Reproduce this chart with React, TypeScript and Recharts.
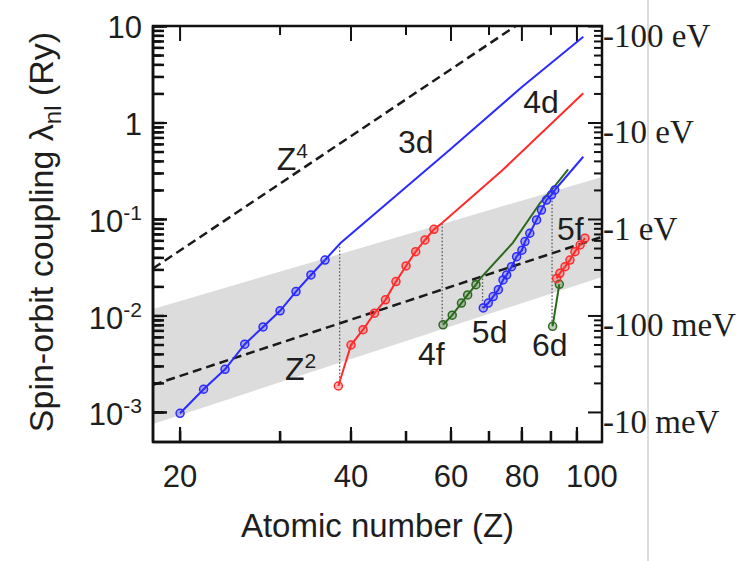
import React from 'react';
import { ComposedChart, Line, Area, XAxis, YAxis, ReferenceDot, ReferenceArea } from 'recharts';

// ---- axes ----
const Z_DOMAIN: [number, number] = [17.92, 110.7];
const L_DOMAIN: [number, number] = [0.000494, 10.12];
const PLOT_W = 449;
const PLOT_H = 416;

const X_MAJOR = [20, 40, 60, 80, 100];
const X_MINOR = [30, 50, 70, 90];
const X_LABELS = ['20', '40', '60', '80', '100'];

const Y_MAJOR = [0.001, 0.01, 0.1, 1, 10];
const Y_MAJOR_BASE = ['10', '10', '10', '1', '10'];
const Y_MAJOR_SUP = ['-3', '-2', '-1', '', ''];
const Y_MINOR = [
  0.002, 0.003, 0.004, 0.005, 0.006, 0.007, 0.008, 0.009,
  0.02, 0.03, 0.04, 0.05, 0.06, 0.07, 0.08, 0.09,
  0.2, 0.3, 0.4, 0.5, 0.6, 0.7, 0.8, 0.9,
  2, 3, 4, 5, 6, 7, 8, 9,
];

const EV_VALUES = [100, 10, 1, 0.1, 0.01];
const EV_LABELS = ['-100 eV', '-10 eV', '-1 eV', '-100 meV', '-10 meV'];
const EV_PER_RY = 13.6057;

// ---- series (Z, lambda in Ry) ----
const D3_MARKED: [number, number][] = [
  [20, 0.00098], [22, 0.00174], [24, 0.0028], [26, 0.0051], [28, 0.0077],
  [30, 0.0113], [32, 0.0179], [34, 0.0266], [36, 0.038],
];
const D3_EXT: [number, number][] = [[36, 0.038], [38.3, 0.0567], [60, 0.54], [80, 2.36], [102.6, 7.84]];

const D4_MARKED: [number, number][] = [
  [38, 0.00188], [40, 0.005], [42, 0.0072], [44, 0.0107], [46, 0.0147],
  [48, 0.0227], [50, 0.033], [52, 0.0464], [54, 0.0613], [56, 0.079],
];
const D4_EXT: [number, number][] = [[56, 0.079], [57.8, 0.0914], [74, 0.326], [102.6, 2.03]];

const F4_MARKED: [number, number][] = [
  [58.1, 0.0081], [60.3, 0.0102], [62.6, 0.0136], [64.2, 0.0165], [66.4, 0.0211],
];
const F4_EXT: [number, number][] = [
  [66.4, 0.0211], [67.6, 0.0245], [77.1, 0.0573], [86.1, 0.148], [90.2, 0.202], [96.5, 0.33],
];

const D5_MARKED: [number, number][] = [
  [68.4, 0.0121], [69.8, 0.0136], [71.2, 0.0159], [72.7, 0.0187], [74.1, 0.0236],
  [75.2, 0.0266], [76.7, 0.0324], [78.3, 0.0412], [80.0, 0.048], [81.0, 0.059],
  [82.6, 0.072], [84.9, 0.099], [86.6, 0.125], [88.4, 0.159], [90.2, 0.18], [91.4, 0.202],
];
const D5_EXT: [number, number][] = [[91.4, 0.202], [102.6, 0.447]];

const F5_MARKED: [number, number][] = [
  [92.1, 0.0245], [93.3, 0.0277], [95.3, 0.0324], [97.2, 0.038], [99.2, 0.0464], [101.3, 0.0544], [103.3, 0.064],
];
const D6_MARKED: [number, number][] = [[90.6, 0.0078], [93.1, 0.0213]];

const DROP_A: [number, number][] = [[38.2, 0.0567], [38.2, 0.00188]];
const DROP_B: [number, number][] = [[57.9, 0.0914], [57.9, 0.0081]];
const DROP_C: [number, number][] = [[68.2, 0.0245], [68.2, 0.0121]];
const DROP_D: [number, number][] = [[90.4, 0.185], [90.4, 0.0078]];

const Z4_LINE: [number, number][] = [[17.92, 0.031], [78, 10.12]];
const Z2_LINE: [number, number][] = [[17.92, 0.00193], [110.7, 0.066]];

const BAND_Z = [17.92, 110.7];
const BAND_LOW = [0.00076, 0.0254];
const BAND_HIGH = [0.0118, 0.275];

// ---- annotations ----
const ANNOT_TEXT = ['Z', '3d', '4d', 'Z', '4f', '5d', '6d', '5f'];
const ANNOT_SUP = ['4', '', '', '2', '', '', '', ''];
const ANNOT_Z = [29.6, 48.4, 80.4, 30.6, 52.5, 65.3, 83.3, 92.2];
const ANNOT_V = [0.326, 0.489, 1.27, 0.00217, 0.0031, 0.00525, 0.00385, 0.0613];

const toPts = (arr: [number, number][]) => arr.map(([z, v]) => ({ z, v }));
const bandData = BAND_Z.map((z, i) => ({ z, band: [BAND_LOW[i], BAND_HIGH[i]] }));

// tick-mark lengths (px) turned into ratios on the log axes
const X_DEC_PX = PLOT_W / Math.log10(Z_DOMAIN[1] / Z_DOMAIN[0]);
const Y_DEC_PX = PLOT_H / Math.log10(L_DOMAIN[1] / L_DOMAIN[0]);
const xr = (px: number) => Math.pow(10, px / X_DEC_PX);
const yr = (px: number) => Math.pow(10, px / Y_DEC_PX);
const isMajY = (v: number) => Y_MAJOR.indexOf(v) >= 0;
const isMajX = (z: number) => X_MAJOR.indexOf(z) >= 0;
const ALL_Y = [...Y_MAJOR, ...Y_MINOR];
const ALL_X = [...X_MAJOR, ...X_MINOR];

const tickSeg = (a: { z: number; v: number }, b: { z: number; v: number }) => [a, b];
const leftTicks = ALL_Y.map((v) => tickSeg({ z: Z_DOMAIN[0], v }, { z: Z_DOMAIN[0] * xr(isMajY(v) ? 14 : 8), v }));
const rightTicks = ALL_Y.map((v) => tickSeg({ z: Z_DOMAIN[1], v }, { z: Z_DOMAIN[1] / xr(isMajY(v) ? 14 : 8), v }));
const bottomTicks = ALL_X.map((z) => tickSeg({ z, v: L_DOMAIN[0] }, { z, v: L_DOMAIN[0] * yr(isMajX(z) ? 15 : 9) }));
const topTicks = ALL_X.map((z) => tickSeg({ z, v: L_DOMAIN[1] }, { z, v: L_DOMAIN[1] / yr(isMajX(z) ? 15 : 9) }));
const ALL_TICK_SEGS = [...leftTicks, ...rightTicks, ...bottomTicks, ...topTicks];

const SANS = '"Liberation Sans", Arial, Helvetica, sans-serif';
const SERIF = '"Liberation Serif", "Times New Roman", serif';
const INK = '#1e1e1e';
const TS = -11; // inward tick size

const BLUE = '#2b2bff';
const RED = '#ff2b2b';
const GREEN = '#2b6a1e';

// left: tick x = axis + 11 - 2
const LeftTick = (props: any) => {
  const { x, y, payload } = props;
  const axisX = x + TS + 2;
  const major = isMajY(payload.value);
  const idx = Y_MAJOR.indexOf(payload.value);
  const sup = major ? Y_MAJOR_SUP[idx] : '';
  return (
    <g>
      <path d={`M${axisX},${y}L${axisX + (major ? 14 : 8)},${y}`} stroke="#111" strokeWidth={2} fill="none" />
      {major && (
        <text x={axisX - 11} y={y + (sup ? 13 : 12)} textAnchor="end" fontSize={31} fontFamily={SANS} fill={INK}>
          {Y_MAJOR_BASE[idx]}
          {sup && (
            <tspan dy={-12} fontSize={21}>
              {sup}
            </tspan>
          )}
        </text>
      )}
    </g>
  );
};

const RightTick = (props: any) => {
  const { x, y, payload } = props;
  const axisX = x - TS - 2;
  const major = isMajY(payload.value);
  return <path d={`M${axisX},${y}L${axisX - (major ? 14 : 8)},${y}`} stroke="#111" strokeWidth={2} fill="none" />;
};

const TopTick = (props: any) => {
  const { x, y, payload } = props;
  const axisY = y - TS - 2;
  const major = isMajX(payload.value);
  return <path d={`M${x},${axisY}L${x},${axisY + (major ? 15 : 9)}`} stroke="#111" strokeWidth={2} fill="none" />;
};

const EvTick = (props: any) => {
  const { x, y, index } = props;
  return (
    <text x={x - 7} y={y + 7.5} fontSize={33} fontFamily={SERIF} fill={INK}>
      {EV_LABELS[index]}
    </text>
  );
};

const BottomTick = (props: any) => {
  const { x, y, payload } = props;
  const axisY = y - TS - 2;
  const idx = X_MAJOR.indexOf(payload.value);
  const major = idx >= 0;
  const dx = payload.value === 100 ? 15 : 0;
  return (
    <g>
      <path d={`M${x},${axisY}L${x},${axisY - (major ? 15 : 9)}`} stroke="#111" strokeWidth={2} fill="none" />
      {major && (
        <text x={x + dx} y={axisY + 45} textAnchor="middle" fontSize={31} fontFamily={SANS} fill={INK}>
          {X_LABELS[idx]}
        </text>
      )}
    </g>
  );
};

const XTitle = (props: any) => {
  const vb = props.viewBox;
  return (
    <text x={vb.x + vb.width / 2} y={vb.y + 95} textAnchor="middle" fontSize={33} fontFamily={SANS} fill={INK}>
      Atomic number (Z)
    </text>
  );
};

const YTitle = (props: any) => {
  const vb = props.viewBox;
  const cx = 53;
  const cy = vb.y + vb.height / 2 - 2;
  return (
    <text
      x={cx}
      y={cy}
      transform={`rotate(-90 ${cx} ${cy})`}
      textAnchor="middle"
      fontSize={34}
      fontFamily={SANS}
      fill={INK}
    >
      Spin-orbit coupling λ
      <tspan dy={8} fontSize={24}>
        nl
      </tspan>
      <tspan dy={-8}> (Ry)</tspan>
    </text>
  );
};

const annotShape = (i: number) => (p: any) => (
  <text x={p.cx} y={p.cy} fontSize={32} fontFamily={SANS} fill={INK}>
    {ANNOT_TEXT[i]}
    {ANNOT_SUP[i] && (
      <tspan dy={-12} fontSize={21}>
        {ANNOT_SUP[i]}
      </tspan>
    )}
  </text>
);

const markerDot = (c: string) => ({ r: 4, fill: c, fillOpacity: 0.3, stroke: c, strokeWidth: 1.5 });

export default function App() {
  const ax = { xAxisId: 'x', yAxisId: 'y' };
  const axisCommon = { type: 'number' as const, scale: 'log' as const, allowDataOverflow: true, interval: 0 as const };
  return (
    <div style={{ position: 'absolute', left: 0, top: 0 }}>
      <div style={{ position: 'absolute', left: 647, top: 0, width: 2, height: 561, background: '#dcdcdc' }} />
      <ComposedChart width={750} height={561} margin={{ top: 26, right: 0, bottom: 29, left: 33 }}>
        <XAxis
          {...axisCommon}
          xAxisId="x"
          dataKey="z"
          domain={Z_DOMAIN}
          ticks={ALL_X}
          height={90}
          tickSize={TS}
          tickMargin={2}
          stroke="#111"
          strokeWidth={2.5}
          tick={<BottomTick />}
          label={<XTitle />}
        />
        <XAxis
          {...axisCommon}
          xAxisId="top"
          dataKey="z"
          orientation="top"
          domain={Z_DOMAIN}
          ticks={ALL_X}
          height={0}
          tickSize={TS}
          tickMargin={2}
          stroke="#111"
          strokeWidth={2.5}
          tick={<TopTick />}
        />
        <YAxis
          {...axisCommon}
          yAxisId="y"
          domain={L_DOMAIN}
          ticks={ALL_Y}
          width={120}
          tickSize={TS}
          tickMargin={2}
          stroke="#111"
          strokeWidth={2.5}
          tick={<LeftTick />}
          label={<YTitle />}
        />
        <YAxis
          {...axisCommon}
          yAxisId="mirror"
          orientation="right"
          domain={L_DOMAIN}
          ticks={ALL_Y}
          width={0}
          tickSize={TS}
          tickMargin={2}
          stroke="#111"
          strokeWidth={2.5}
          tick={<RightTick />}
        />
        <YAxis
          {...axisCommon}
          yAxisId="ev"
          orientation="right"
          domain={L_DOMAIN}
          ticks={EV_VALUES.map((e) => e / EV_PER_RY)}
          width={148}
          tickLine={false}
          axisLine={false}
          tick={<EvTick />}
        />

        <Area
          {...ax}
          data={bandData}
          dataKey="band"
          type="linear"
          stroke="none"
          fill="#dcdcdc"
          fillOpacity={1}
          isAnimationActive={false}
        />

        {ALL_TICK_SEGS.map((d, i) => (
          <Line key={'tk' + i} {...ax} data={d} dataKey="v" type="linear" stroke="#111" strokeWidth={2} dot={false} isAnimationActive={false} />
        ))}

        <Line {...ax} data={toPts(Z4_LINE)} dataKey="v" type="linear" stroke="#1a1a1a" strokeWidth={2.5} strokeDasharray="9 5" dot={false} isAnimationActive={false} />
        <Line {...ax} data={toPts(Z2_LINE)} dataKey="v" type="linear" stroke="#1a1a1a" strokeWidth={2.5} strokeDasharray="9 5" dot={false} isAnimationActive={false} />

        {[DROP_A, DROP_B, DROP_C, DROP_D].map((d, i) => (
          <Line key={'drop' + i} {...ax} data={toPts(d)} dataKey="v" type="linear" stroke="#555" strokeWidth={1.3} strokeDasharray="1.5 2" dot={false} isAnimationActive={false} />
        ))}

        <Line {...ax} data={toPts(D3_EXT)} dataKey="v" type="linear" stroke={BLUE} strokeWidth={2} dot={false} isAnimationActive={false} />
        <Line {...ax} data={toPts(D3_MARKED)} dataKey="v" type="linear" stroke={BLUE} strokeWidth={2} dot={markerDot(BLUE)} isAnimationActive={false} />

        <Line {...ax} data={toPts(D4_EXT)} dataKey="v" type="linear" stroke={RED} strokeWidth={2} dot={false} isAnimationActive={false} />
        <Line {...ax} data={toPts(D4_MARKED)} dataKey="v" type="linear" stroke={RED} strokeWidth={2} dot={markerDot(RED)} isAnimationActive={false} />

        <Line {...ax} data={toPts(F4_EXT)} dataKey="v" type="linear" stroke={GREEN} strokeWidth={2} dot={false} isAnimationActive={false} />
        <Line {...ax} data={toPts(F4_MARKED)} dataKey="v" type="linear" stroke={GREEN} strokeWidth={2} dot={markerDot(GREEN)} isAnimationActive={false} />

        <Line {...ax} data={toPts(D5_EXT)} dataKey="v" type="linear" stroke={BLUE} strokeWidth={2} dot={false} isAnimationActive={false} />
        <Line {...ax} data={toPts(D5_MARKED)} dataKey="v" type="linear" stroke={BLUE} strokeWidth={2} dot={markerDot(BLUE)} isAnimationActive={false} />

        <Line {...ax} data={toPts(D6_MARKED)} dataKey="v" type="linear" stroke={GREEN} strokeWidth={2} dot={markerDot(GREEN)} isAnimationActive={false} />
        <Line {...ax} data={toPts(F5_MARKED)} dataKey="v" type="linear" stroke={RED} strokeWidth={2} dot={markerDot(RED)} isAnimationActive={false} />

        {ANNOT_TEXT.map((t, i) => (
          <ReferenceDot
            key={'ann' + i}
            {...ax}
            x={ANNOT_Z[i]}
            y={ANNOT_V[i]}
            r={0}
            ifOverflow="visible"
            shape={annotShape(i)}
          />
        ))}

        <ReferenceArea
          {...ax}
          x1={Z_DOMAIN[0]}
          x2={Z_DOMAIN[1]}
          y1={L_DOMAIN[0]}
          y2={L_DOMAIN[1]}
          ifOverflow="visible"
          fill="none"
          fillOpacity={0}
          stroke="#111"
          strokeWidth={2.5}
        />
      </ComposedChart>
    </div>
  );
}
